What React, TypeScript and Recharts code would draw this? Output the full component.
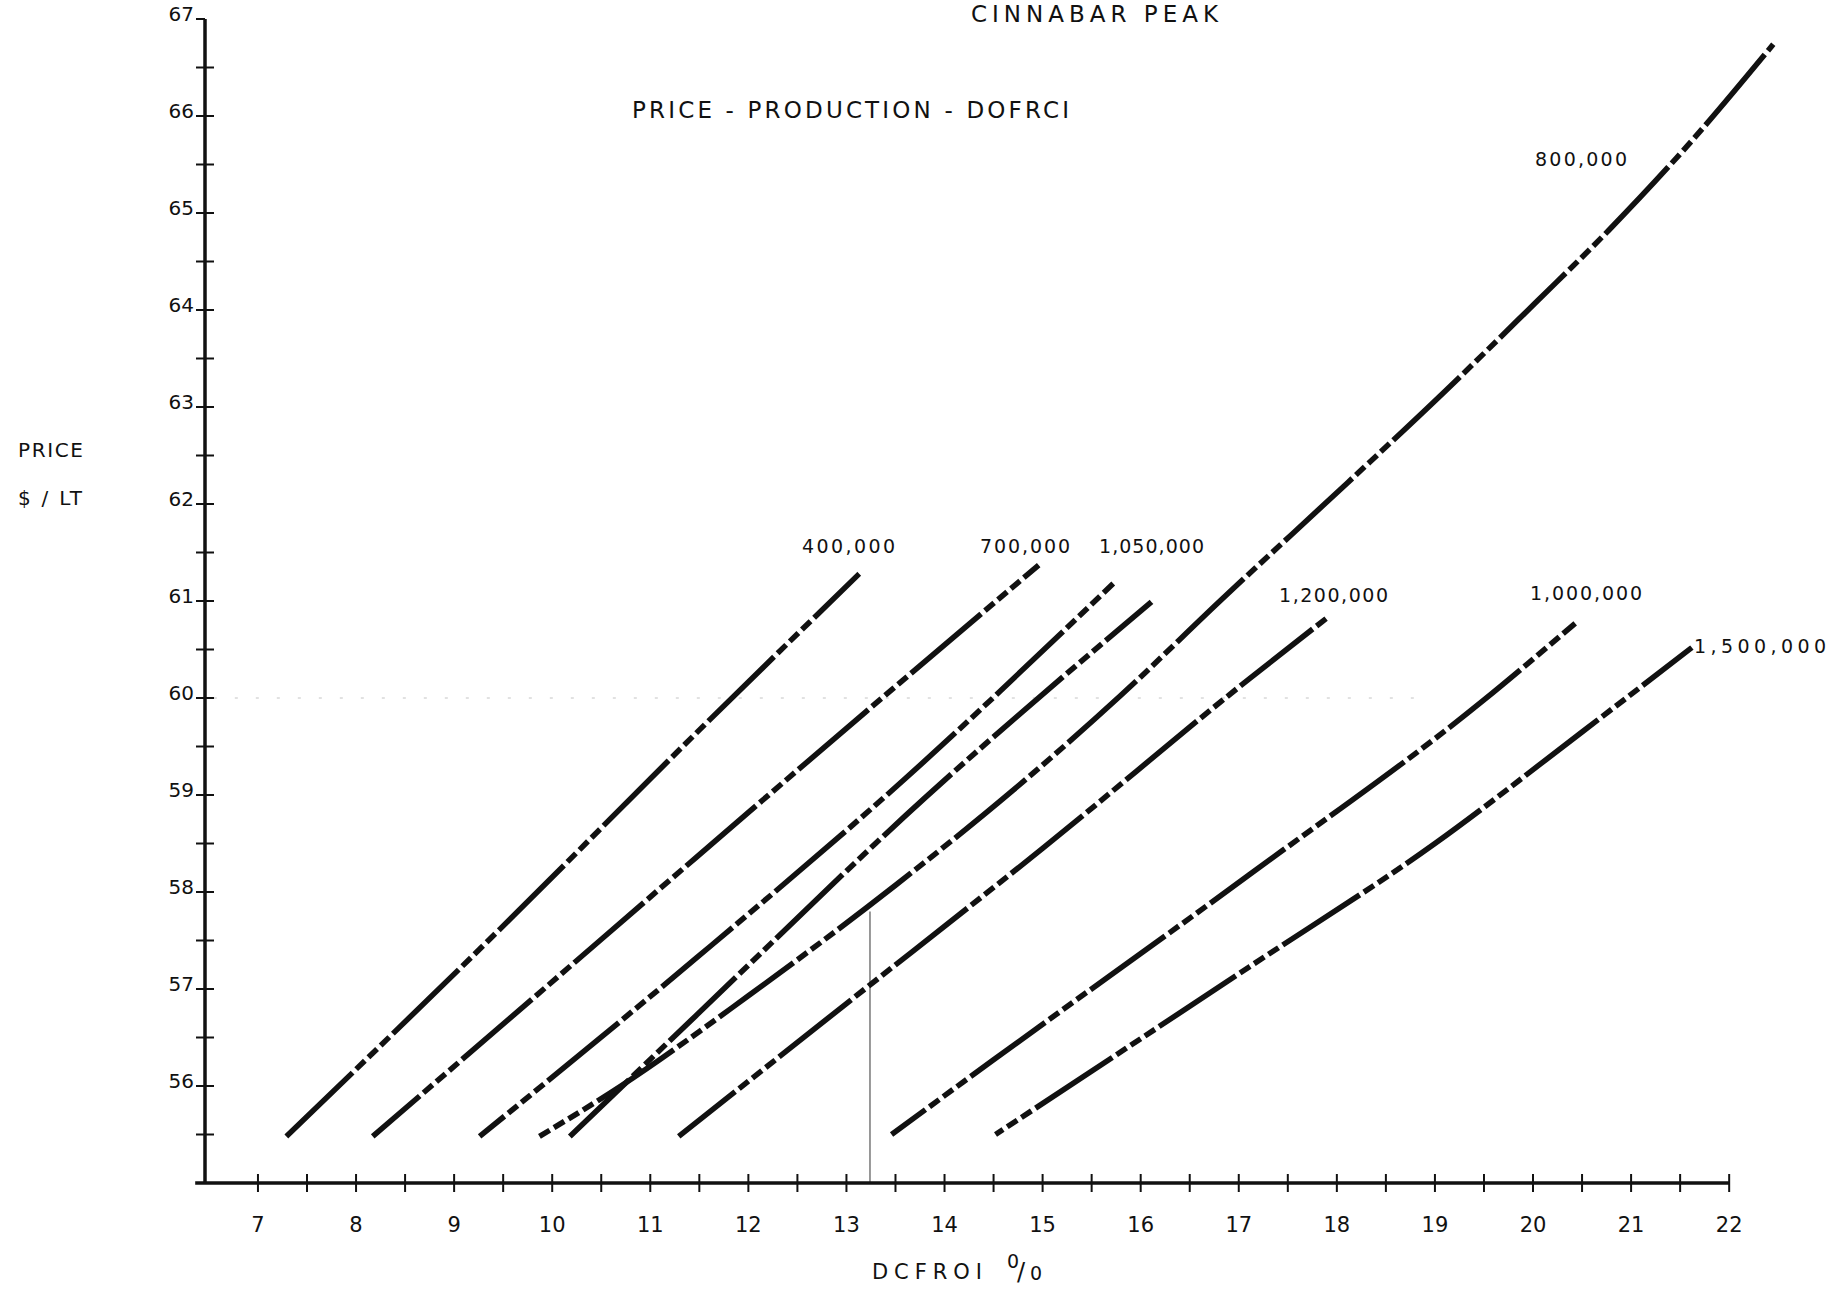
import React from 'react';
import { LineChart, Line, XAxis, YAxis, ReferenceLine } from 'recharts';

// ---- data (DCFROI %, price $/LT) ----
const s400k = [
  { x: 7.29, y: 55.48 }, { x: 9.47, y: 57.62 }, { x: 11.46, y: 59.63 }, { x: 13.13, y: 61.28 },
];
const s700k = [
  { x: 8.17, y: 55.48 }, { x: 9.8, y: 56.9 }, { x: 11.46, y: 58.35 }, { x: 13.2, y: 59.86 }, { x: 14.96, y: 61.37 },
];
const sUnlabeled = [
  { x: 9.26, y: 55.48 }, { x: 11.47, y: 57.32 }, { x: 13.6, y: 59.17 }, { x: 15.72, y: 61.18 },
];
const s1050k = [
  { x: 10.18, y: 55.48 }, { x: 11.46, y: 56.72 }, { x: 13.8, y: 58.97 }, { x: 16.11, y: 60.99 },
];
const s800k = [
  { x: 9.87, y: 55.48 }, { x: 10.7, y: 56.0 }, { x: 12.0, y: 56.93 }, { x: 13.5, y: 58.07 }, { x: 14.7, y: 59.05 },
  { x: 15.79, y: 60.02 }, { x: 16.83, y: 61.02 }, { x: 18.11, y: 62.22 }, { x: 19.09, y: 63.15 }, { x: 20.02, y: 64.07 },
  { x: 20.77, y: 64.82 }, { x: 21.58, y: 65.7 }, { x: 22.45, y: 66.74 },
];
const s1200k = [
  { x: 11.29, y: 55.48 }, { x: 13.0, y: 56.85 }, { x: 15.0, y: 58.45 }, { x: 17.11, y: 60.2 }, { x: 17.93, y: 60.85 },
];
const s1000k = [
  { x: 13.46, y: 55.5 }, { x: 14.5, y: 56.27 }, { x: 17.11, y: 58.18 }, { x: 19.5, y: 59.98 }, { x: 20.43, y: 60.77 },
];
const s1500k = [
  { x: 14.52, y: 55.5 }, { x: 17.11, y: 57.23 }, { x: 19.0, y: 58.5 }, { x: 20.5, y: 59.65 }, { x: 21.62, y: 60.52 },
];

const xTicks = [7, 7.5, 8, 8.5, 9, 9.5, 10, 10.5, 11, 11.5, 12, 12.5, 13, 13.5, 14, 14.5, 15, 15.5, 16, 16.5, 17, 17.5, 18, 18.5, 19, 19.5, 20, 20.5, 21, 21.5, 22];
const yTicks = [55.5, 56, 56.5, 57, 57.5, 58, 58.5, 59, 59.5, 60, 60.5, 61, 61.5, 62, 62.5, 63, 63.5, 64, 64.5, 65, 65.5, 66, 66.5, 67];

const seriesLabels = [
  { text: '400,000', x: 802, y: 553, w: 93 },
  { text: '700,000', x: 980, y: 553, w: 90 },
  { text: '1,050,000', x: 1099, y: 553, w: 105 },
  { text: '1,200,000', x: 1279, y: 602, w: 109 },
  { text: '1,000,000', x: 1530, y: 600, w: 112 },
  { text: '1,500,000', x: 1694, y: 653, w: 132 },
  { text: '800,000', x: 1535, y: 166, w: 92 },
];

const FONT = 'DejaVu Sans';
const INK = '#111';
const DASH = '92 5 12 5 12 5 12 5';

const XTick = (props: any) => {
  const { x, y, payload } = props;
  const v = payload.value;
  return (
    <g>
      <line x1={x} x2={x} y1={y - 9} y2={y + 9} stroke={INK} strokeWidth={2} />
      {Number.isInteger(v) && (
        <text x={x} y={y + 49} textAnchor="middle" fontSize={21} fontFamily={FONT} fill={INK}>
          {v}
        </text>
      )}
    </g>
  );
};

const YTick = (props: any) => {
  const { x, y, payload } = props;
  const v = payload.value;
  const top = v === 67;
  return (
    <g>
      <line x1={x - 9} x2={top ? x : x + 9} y1={y} y2={y} stroke={INK} strokeWidth={2} />
      {Number.isInteger(v) && (
        <text x={x - 11} y={y + 2} textAnchor="end" fontSize={20} fontFamily={FONT} fill={INK}>
          {v}
        </text>
      )}
    </g>
  );
};

const lines = [
  { data: s400k, off: 0 },
  { data: s700k, off: 30 },
  { data: sUnlabeled, off: 60 },
  { data: s1050k, off: 10 },
  { data: s800k, off: 80 },
  { data: s1200k, off: 20 },
  { data: s1000k, off: 50 },
  { data: s1500k, off: 100 },
];

export default function App() {
  return (
    <div style={{ position: 'absolute', left: 0, top: 0, width: 1841, height: 1293, background: '#fff' }}>
      <LineChart width={1841} height={1293} margin={{ top: 19, right: 52, bottom: 50, left: 125 }}>
        <XAxis
          type="number"
          dataKey="x"
          domain={[6.46, 22.61]}
          ticks={xTicks}
          interval={0}
          allowDataOverflow
          axisLine={false}
          tickLine={false}
          tickSize={0}
          tickMargin={0}
          height={60}
          tick={<XTick />}
        />
        <YAxis
          type="number"
          dataKey="y"
          domain={[55, 67]}
          ticks={yTicks}
          interval={0}
          allowDataOverflow
          axisLine={{ stroke: INK, strokeWidth: 3.5 }}
          tickLine={false}
          tickSize={0}
          tickMargin={0}
          width={80}
          tick={<YTick />}
        />
        <ReferenceLine
          segment={[{ x: 6.55, y: 60 }, { x: 18.9, y: 60 }]}
          stroke="#c4c4c4"
          strokeWidth={1}
          strokeDasharray="3 18"
          ifOverflow="visible"
        />
        <ReferenceLine
          segment={[{ x: 13.24, y: 55 }, { x: 13.24, y: 57.8 }]}
          stroke="#555"
          strokeWidth={1.2}
          ifOverflow="visible"
        />
        <ReferenceLine
          segment={[{ x: 6.36, y: 55 }, { x: 22, y: 55 }]}
          stroke={INK}
          strokeWidth={3.5}
          ifOverflow="visible"
        />
        {lines.map((l, i) => (
          <Line
            key={i}
            data={l.data}
            dataKey="y"
            type="monotone"
            stroke={INK}
            strokeWidth={5.5}
            strokeDasharray={DASH}
            strokeDashoffset={l.off}
            strokeLinecap="butt"
            dot={false}
            activeDot={false}
            isAnimationActive={false}
          />
        ))}
      </LineChart>
      <svg
        width={1841}
        height={1293}
        style={{ position: 'absolute', left: 0, top: 0, pointerEvents: 'none' }}
        fontFamily={FONT}
        fill={INK}
      >
        <text x={971} y={22} fontSize={23} textLength={247} lengthAdjust="spacing">CINNABAR PEAK</text>
        <text x={632} y={118} fontSize={23} textLength={437} lengthAdjust="spacing">PRICE - PRODUCTION - DOFRCI</text>
        <text x={18} y={457} fontSize={20} textLength={65} lengthAdjust="spacing">PRICE</text>
        <text x={18} y={505} fontSize={20} textLength={64} lengthAdjust="spacing">$ / LT</text>
        <text x={872} y={1279} fontSize={21} textLength={110} lengthAdjust="spacing">DCFROI</text>
        <text x={1007} y={1268} fontSize={19}>0</text>
        <text x={1017} y={1280} fontSize={24}>/</text>
        <text x={1030} y={1280} fontSize={19}>0</text>
        {seriesLabels.map((s, i) => (
          <text key={i} x={s.x} y={s.y} fontSize={19} textLength={s.w} lengthAdjust="spacing">
            {s.text}
          </text>
        ))}
      </svg>
    </div>
  );
}
